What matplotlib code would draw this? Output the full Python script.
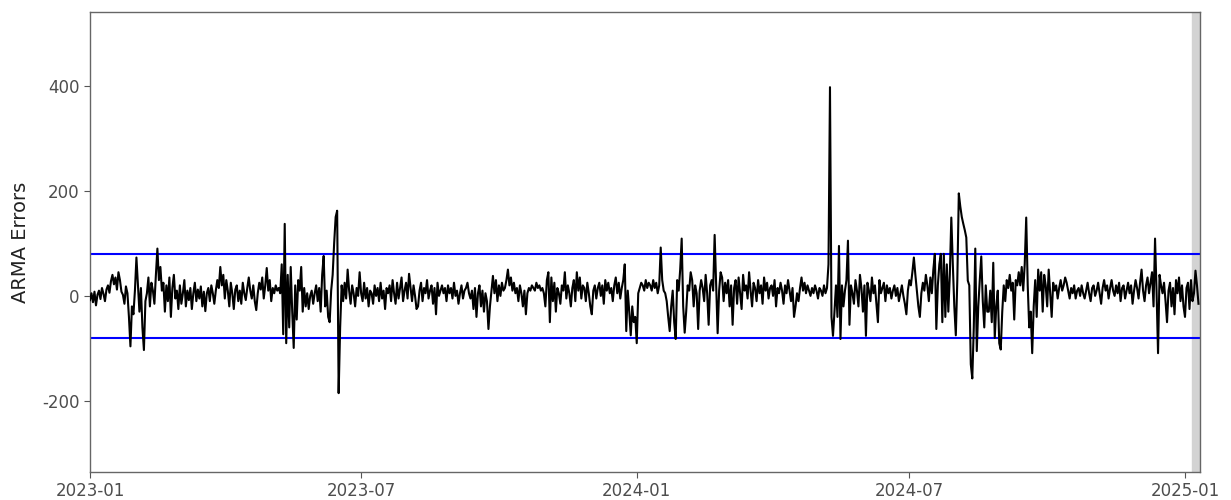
import numpy as np
import pandas as pd
import matplotlib
matplotlib.use("Agg")
import matplotlib.pyplot as plt
import matplotlib.dates as mdates

# daily ARMA residuals (starting 2023-01-01)
errors = [
    -8, 5, -12, 8, -18, 2, 10, -6, 15, 4,
    -10, 12, 20, 6, 28, 40, 22, 35, 12, 45,
    30, 8, 2, -15, 18, 5, -40, -96, -20, -35,
    10, 73, 20, -30, 15, -60, -103, -10, 5, 35,
    -20, 25, 10, -15, 40, 90, 30, 55, 10, 25,
    -30, 20, -10, 35, -40, 15, 40, -5, 10, -25,
    20, -15, 5, 30, -20, 10, -8, 15, -25, 5,
    25, -10, 12, -5, 18, -20, 8, -29, 5, 15,
    -10, 20, 5, -15, 10, 30, 15, 55, 20, 40,
    -5, 30, 10, -20, 25, 5, -25, 12, 20, -10,
    10, -15, 25, 5, -8, 15, 35, 10, -5, 20,
    -10, -27, 5, 25, 12, 35, -5, 20, 53, 10,
    30, -10, 15, 5, 20, 10, 15, 5, 60, -73,
    137, -90, 40, -60, 55, -30, -99, 20, -45, 30,
    10, 55, -30, 15, -20, 5, -25, 0, 10, -15,
    5, 20, -10, 15, -30, 40, 76, -20, 10, -40,
    -50, 10, 40, 100, 150, 162, -185, -60, 20, -10,
    25, -5, 50, 10, -15, 20, 5, -20, 15, 0,
    45, 5, -10, 25, -5, 15, -20, 10, 5, -15,
    20, 0, 15, -10, 25, -5, 10, -25, 15, 5,
    20, -10, 30, 5, -15, 25, -5, 15, 35, -10,
    10, 25, -5, 42, 15, -10, 20, 0, -25, -20,
    10, 25, -10, 15, 5, 30, -5, 10, 20, -15,
    15, -35, 25, 0, 10, 20, 5, 15, -10, 20,
    5, 15, -5, 25, 0, 10, -15, 5, 20, -5,
    10, 15, 25, 5, -5, 10, -25, 15, -40, 5,
    20, -20, 10, -30, 5, -10, -63, -20, 10, 38,
    5, 30, -10, 20, 0, 25, 10, 15, 30, 50,
    20, 35, 10, 25, 5, 15, -10, 20, 5, -20,
    10, -35, 5, 15, 10, 20, 15, 10, 25, 15,
    20, 10, 15, 5, -20, 30, 45, -50, 35, -10,
    25, -30, 15, 5, -15, 20, 10, 45, -5, 20,
    5, -20, 15, 30, -10, 45, 10, 35, -5, 20,
    15, -10, 25, 5, -20, -35, 10, 20, -5, 15,
    25, 0, 20, -15, 30, 10, 25, 5, 15, -10,
    20, 35, 5, 25, -5, 15, 30, 60, -67, 10,
    -30, -75, -20, -50, -40, -90, 5, 15, 25, 20,
    10, 30, 15, 25, 20, 10, 30, 15, 25, 5,
    20, 92, 30, 10, 5, -10, -40, -67, -20, 10,
    -50, -82, 30, 10, 50, 109, -20, -70, -30, 20,
    10, 45, 30, -20, 20, 5, -63, 10, 30, 15,
    -10, 40, 5, -55, 20, 30, 10, 116, 20, -71,
    10, 45, 35, -10, 25, 5, 30, -20, 20, -55,
    15, 30, -15, 35, 5, -25, 40, 10, 20, -5,
    45, 10, -20, 25, 15, -10, 30, 5, 20, -15,
    35, 10, 25, -5, 15, 20, 0, 30, -20, 15,
    5, 25, 10, -15, 20, 5, 30, 10, -10, 15,
    -40, -20, 5, -10, 15, 35, 10, 25, 5, 20,
    10, 0, 15, 5, 20, 10, -5, 15, 10, 0,
    20, 5, 15, 60, 397, -40, -76, -30, 20, -40,
    95, -82, 20, -20, 10, 30, 105, -55, 20, 5,
    -15, 30, 10, -20, 40, 15, -30, 20, -76, 25,
    10, -10, 35, 5, 20, -15, -50, 30, 5, 15,
    25, -10, 20, 5, 15, -5, 10, 20, 0, 15,
    -10, 5, 20, 0, -15, -35, 10, 30, 20, 45,
    73, 40, 10, -20, -40, 5, 25, 10, 40, 20,
    -10, 35, 5, 50, 80, -63, 20, 60, 80, -50,
    80, -40, 60, -30, 40, 149, 60, -20, -75, 30,
    195, 170, 150, 137, 125, 111, 29, 20, -130, -157,
    -60, 90, -105, -20, 30, 75, -10, -60, 20, -30,
    -30, 10, -50, 63, -80, -20, 10, -90, -102, -30,
    20, -10, 30, 15, 40, 10, 25, -45, 30, 20,
    45, 20, 55, 10, 60, 149, 20, -60, -30, -109,
    -20, 30, -40, 50, 10, 45, -30, 40, 20, -20,
    50, 5, -40, 25, 10, 20, -5, 15, 30, 10,
    20, 35, 25, 10, -5, 15, 5, 20, -5, 10,
    15, 0, 20, 5, -5, 10, 25, 5, -10, 15,
    20, 0, 10, 25, 5, -15, 15, 30, 10, 20,
    -5, 15, 30, 10, 0, 20, 5, 25, -10, 15,
    20, -5, 10, 25, 5, 20, -15, 10, 30, 15,
    -5, 25, 50, 10, -10, 20, 35, 5, 25, 45,
    -20, 109, 10, -109, 40, 20, 5, 25, -10, -50,
    10, 25, -20, 15, -35, 30, 5, 35, -10, 20,
    -20, -40, 15, 25, -25, 30, -10, 5, 48, 20,
    -15,
]
start_date = "2023-01-01"
band_start = "2025-01-06"
limit = 80  # control limits

plt.rcParams['axes.unicode_minus'] = False

dates = pd.date_range(start_date, periods=len(errors), freq="D")
x_end = dates[-1] + pd.Timedelta(days=1)

fig = plt.figure(figsize=(12.31, 5), dpi=100)
ax = fig.add_axes([0.0731, 0.056, 0.9017, 0.920])

ax.axvspan(pd.Timestamp(band_start), x_end, color="#d3d3d3", zorder=0)
ax.plot(dates, errors, color="black", lw=1.5, zorder=3)
ax.axhline(limit, color="blue", lw=1.5, zorder=2)
ax.axhline(-limit, color="blue", lw=1.5, zorder=2)

ax.set_xlim(dates[0], x_end)
ax.set_ylim(-335, 540)
ax.set_yticks([-200, 0, 200, 400])
ax.xaxis.set_major_locator(mdates.MonthLocator(bymonth=[1, 7]))
ax.xaxis.set_major_formatter(mdates.DateFormatter("%Y-%m"))

ax.set_ylabel("ARMA Errors", fontsize=14, color="#222222", labelpad=9)
ax.tick_params(labelsize=12, labelcolor="#4d4d4d", color="#555555", length=4)
for s in ax.spines.values():
    s.set_color("#666666")
    s.set_linewidth(1.0)

fig.savefig("out.png", dpi=100)
